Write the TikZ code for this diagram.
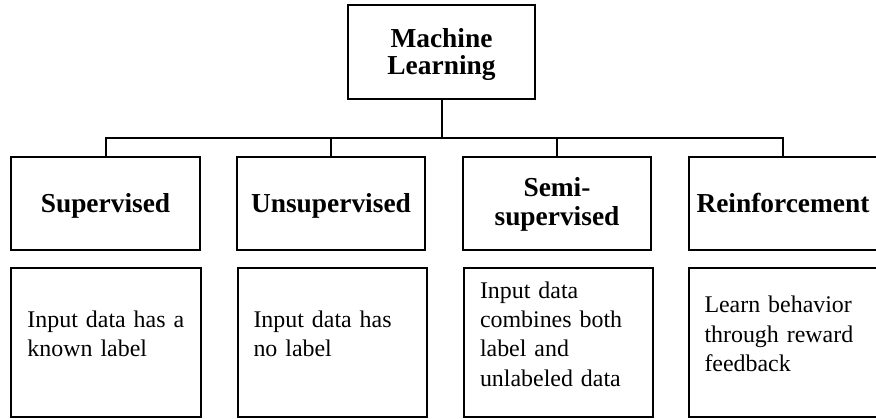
\documentclass[tikz,border=0pt]{standalone}
\usepackage{fontspec}
\setmainfont{Liberation Serif}
% invisible struts that fix the vertical placement of text inside boxes
\newcommand{\headstrut}[1]{\rule{0pt}{#1}}
\newcommand{\tailstrut}{\rule[-16bp]{0pt}{0pt}}
\begin{document}
\begin{tikzpicture}[x=1bp,y=-1bp,
  box/.style={draw=black, rectangle, line width=2bp, inner sep=0pt},
  head/.style={box, font=\bfseries\fontsize{27.5}{27.5}\selectfont, align=center},
  onehead/.style={head, text height=20bp, text depth=3bp},
  desc/.style={box, font=\fontsize{24}{29.5}\selectfont, align=left,
               inner xsep=16bp, text width=157bp, minimum height=149bp},
  link/.style={draw=black, line width=2bp}]
\useasboundingbox (0,0) rectangle (876,418);

% root
\node[head, minimum width=187bp, minimum height=94bp] (ml) at (441.5,52)
  {\headstrut{24bp}Machine\\Learning};

% categories
\node[onehead, minimum width=188bp, minimum height=93bp] (sup) at (105.5,203.5) {Supervised};
\node[onehead, minimum width=188bp, minimum height=93bp] (uns) at (331,203.5)   {Unsupervised};
\node[head, minimum width=188bp, minimum height=93bp, font=\bfseries\fontsize{27.5}{28.3}\selectfont]
  (semi) at (557,203.5) {\headstrut{21bp}Semi-\\supervised};
\node[onehead, minimum width=188bp, minimum height=93bp] (rein) at (783,203.5) {Reinforcement};

% descriptions
\node[desc] (dsup)  at (106,342)   {Input data has a\\known label\tailstrut};
\node[desc] (duns)  at (332,342)   {Input data has\\no label\tailstrut};
\node[desc] (dsemi) at (558.5,342) {Input data\\combines both\\label and\\unlabeled data\tailstrut};
\node[desc] (drein) at (783,342)   {Learn behavior\\through reward\\feedback\tailstrut};

% tree connectors
\coordinate (bar) at (0,138);
\draw[link] (ml.south) -- (ml.south |- bar);
\draw[link] (sup.north) -- (sup.north |- bar) -- (rein.north |- bar) -- (rein.north);
\draw[link] (uns.north) -- (uns.north |- bar);
\draw[link] (semi.north) -- (semi.north |- bar);
\end{tikzpicture}
\end{document}
